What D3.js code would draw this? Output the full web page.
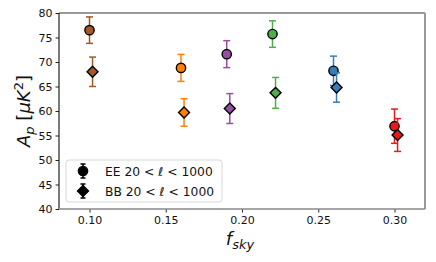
<!DOCTYPE html>
<html>
<head>
<meta charset="utf-8">
<script src="https://cdn.jsdelivr.net/npm/d3@7"></script>
<style>
  body { margin: 0; background: #fff; }
  text { font-family: "DejaVu Sans", sans-serif; }
</style>
</head>
<body>
<div id="chart"></div>
<script>
// sky fractions, one per mask
const colors = ["#a65628", "#ff7f00", "#984ea3", "#4daf4a", "#377eb8", "#e41a1c"];
const eeX = [0.100, 0.160, 0.190, 0.220, 0.260, 0.300];
const eeY = [76.5, 68.8, 71.6, 75.7, 68.2, 56.9];
const eeErr = [2.7, 2.75, 2.75, 2.7, 3.0, 3.5];
const bbX = [0.102, 0.162, 0.192, 0.222, 0.262, 0.302];
const bbY = [68.0, 59.7, 60.5, 63.7, 64.8, 55.1];
const bbErr = [3.0, 2.8, 3.05, 3.15, 3.0, 3.35];
const xTicks = [0.10, 0.15, 0.20, 0.25, 0.30];
const yTicks = [40, 45, 50, 55, 60, 65, 70, 75, 80];
const legendLabels = ["EE", "BB"];

const W = 436, H = 262;
const margin = { top: 13, right: 11, bottom: 53, left: 59 };
const width = W - margin.left - margin.right, height = H - margin.top - margin.bottom;

const x = d3.scaleLinear().domain([0.08, 0.32]).range([0, width]);
const y = d3.scaleLinear().domain([40, 80]).range([height, 0]);

const svg = d3.select("#chart").append("svg")
  .attr("width", W).attr("height", H);

const g = svg.append("g")
  .attr("transform", "translate(" + margin.left + "," + margin.top + ")");

// axes
const xAxis = g.append("g")
  .attr("transform", "translate(0," + height + ")")
  .call(d3.axisBottom(x).tickValues(xTicks).tickFormat(d3.format(".2f")).tickSize(3.5).tickPadding(4));
const yAxis = g.append("g")
  .call(d3.axisLeft(y).tickValues(yTicks).tickSize(3.5).tickPadding(3));
[xAxis, yAxis].forEach(a => {
  a.select(".domain").remove();
  a.selectAll("text").attr("font-size", 11).attr("fill", "#111").style("font-family", "DejaVu Sans");
  a.selectAll("line").attr("stroke", "#222");
});

// spines
g.append("line").attr("x1", 0).attr("x2", width).attr("y1", 0).attr("y2", 0).attr("stroke", "#333");
g.append("line").attr("x1", 0).attr("x2", 0).attr("y1", 0).attr("y2", height).attr("stroke", "#222").attr("stroke-width", 1.2);
g.append("line").attr("x1", 0).attr("x2", width).attr("y1", height).attr("y2", height).attr("stroke", "#888").attr("stroke-width", 1.5);
g.append("line").attr("x1", width).attr("x2", width).attr("y1", 0).attr("y2", height).attr("stroke", "#999").attr("stroke-width", 2);

const capW = 3.5;
function errbar(sel, cx, cy, e, color) {
  sel.append("line").attr("x1", cx).attr("x2", cx).attr("y1", y(cy - e)).attr("y2", y(cy + e))
    .attr("stroke", color).attr("stroke-width", 1.5);
  [cy - e, cy + e].forEach(v => {
    sel.append("line").attr("x1", cx - capW).attr("x2", cx + capW).attr("y1", y(v)).attr("y2", y(v))
      .attr("stroke", color).attr("stroke-width", 1.5);
  });
}

const circleSym = d3.symbol().type(d3.symbolCircle).size(68);
const diamondSym = d3.symbol().type(d3.symbolSquare).size(60);

function drawSeries(xs, ys, errs, kind) {
  xs.forEach((xv, i) => {
    const s = g.append("g");
    errbar(s, x(xv), ys[i], errs[i], colors[i]);
    const m = s.append("path")
      .attr("fill", colors[i]).attr("stroke", "#000").attr("stroke-width", 1.4);
    if (kind === "circle") {
      m.attr("d", circleSym()).attr("transform", "translate(" + x(xv) + "," + y(ys[i]) + ")");
    } else {
      m.attr("d", diamondSym()).attr("transform", "translate(" + x(xv) + "," + y(ys[i]) + ") rotate(45)");
    }
  });
}
drawSeries(eeX, eeY, eeErr, "circle");
drawSeries(bbX, bbY, bbErr, "diamond");

// legend
const leg = svg.append("g").attr("transform", "translate(66,160)");
leg.append("rect").attr("x", 0).attr("y", 0).attr("width", 156).attr("height", 42).attr("rx", 3)
  .attr("fill", "#fff").attr("fill-opacity", 0.8).attr("stroke", "#d8d8d8");
legendLabels.forEach((lab, i) => {
  const cy = 11 + i * 20;
  const row = leg.append("g");
  row.append("line").attr("x1", 17).attr("x2", 17).attr("y1", cy - 7).attr("y2", cy + 7).attr("stroke", "#000").attr("stroke-width", 1.5);
  [cy - 7, cy + 7].forEach(v => row.append("line").attr("x1", 14.5).attr("x2", 19.5).attr("y1", v).attr("y2", v).attr("stroke", "#000").attr("stroke-width", 1.5));
  row.append("path").attr("d", i === 0 ? circleSym() : diamondSym())
    .attr("transform", "translate(17," + cy + ")" + (i === 0 ? "" : " rotate(45)"))
    .attr("fill", "#000").attr("stroke", "#000").attr("stroke-width", 1.4);
  const t = row.append("text").attr("x", 39).attr("y", cy + 4.5).attr("font-size", 12.3).attr("fill", "#111");
  t.append("tspan").text(lab + " 20 < ");
  t.append("tspan").attr("font-style", "italic").text("ℓ");
  t.append("tspan").text(" < 1000");
});

// axis labels
const xl = svg.append("text").attr("x", margin.left + width / 2 - 2).attr("y", 245)
  .attr("text-anchor", "middle").attr("font-size", 18).attr("font-style", "italic").attr("fill", "#111");
xl.append("tspan").text("f");
xl.append("tspan").attr("font-size", 13).attr("dy", 4).text("sky");

const yl = svg.append("text")
  .attr("transform", "translate(30," + (margin.top + height / 2) + ") rotate(-90)")
  .attr("text-anchor", "middle").attr("font-size", 18).attr("fill", "#111");
yl.append("tspan").attr("font-style", "italic").text("A");
yl.append("tspan").attr("font-style", "italic").attr("font-size", 13).attr("dy", 4).text("p");
yl.append("tspan").attr("dy", -4).text(" [");
yl.append("tspan").attr("font-style", "italic").text("μK");
yl.append("tspan").attr("font-size", 13).attr("dy", -7).text("2");
yl.append("tspan").attr("dy", 7).text("]");
</script>
</body>
</html>
